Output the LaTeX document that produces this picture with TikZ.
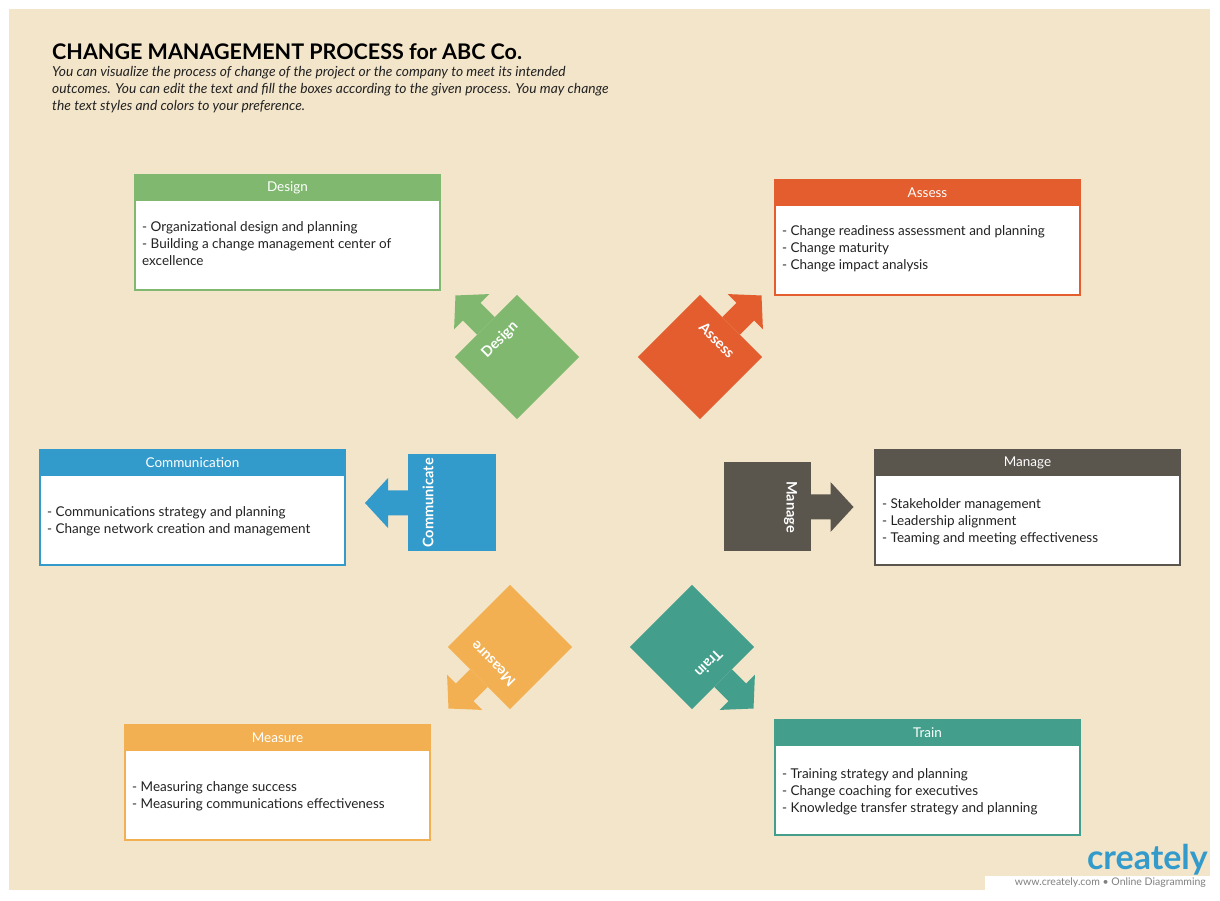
\documentclass[tikz,border=0pt]{standalone}
\usepackage{fontspec}
\setmainfont{Lato}
\definecolor{bg}{HTML}{F3E5CA}
\definecolor{cgreen}{HTML}{80B870}
\definecolor{corange}{HTML}{E35D2E}
\definecolor{cblue}{HTML}{339BCB}
\definecolor{cdark}{HTML}{5A554D}
\definecolor{cyellow}{HTML}{F2B052}
\definecolor{cteal}{HTML}{439F8B}
\definecolor{txt}{HTML}{222222}
\newcommand{\arrshape}[9]{% name,x,y,rot,w,h,color,text,textrot
  \begin{scope}[shift={(#2,#3)},rotate=#4]
    \fill[#7] (-#5/2,-#6/2) rectangle (#5/2,#6/2);
    \fill[#7] (-#5/2,-12.5) -- (-#5/2-20,-12.5) -- (-#5/2-20,-25) -- (-#5/2-43,0)
      -- (-#5/2-20,25) -- (-#5/2-20,12.5) -- (-#5/2,12.5) -- cycle;
    \node[shapelbl,rotate=#9] (#1) at (-#5/2+20,0) {#8};
  \end{scope}}
\newcommand{\procbox}[8]{% name,x1,ytop,x2,ybot,color,title,body-offset ; body in #9
  \draw[#6,line width=1.5pt,fill=white] (#2,#3) rectangle (#4,#5);
  \fill[#6] (#2,#3) rectangle (#4,#3-26);
  \node[hdr] (#1h) at ({(#2+#4)/2},#3-13) {#7};
  \procbody{#1}{#2}{#3-#8}}
\newcommand{\procbody}[4]{\node[bodytxt,anchor=north west] (#1b) at (#2+7,#3) {#4};}
\tikzset{
  shapelbl/.style={text=white,font=\fontsize{14.5}{15}\selectfont\bfseries,inner sep=0pt},
  hdr/.style={text=white,font=\fontsize{13.5}{15}\selectfont,inner sep=0pt},
  bodytxt/.style={text=txt,font=\fontsize{13.5}{17}\selectfont,align=left,inner sep=0pt}
}
\begin{document}
\begin{tikzpicture}[x=1pt,y=1pt]
\useasboundingbox (0,0) rectangle (1220,900);
\fill[white] (0,0) rectangle (1220,900);
\fill[bg] (9,10) rectangle (1210,891);
% title
\node[anchor=west,inner sep=0pt,font=\fontsize{21.5}{25}\selectfont\bfseries,text=black] (title) at (52,848) {CHANGE MANAGEMENT PROCESS for ABC Co.};
\node[anchor=north west,inner sep=0pt,align=left,font=\fontsize{13.8}{17}\selectfont\itshape,text=txt] (sub) at (52,834)
 {You can visualize the process of change of the project or the company to meet its intended\\outcomes. You can edit the text and fill the boxes according to the given process. You may change\\the text styles and colors to your preference.};
% shapes
\arrshape{sDesign}{517}{543}{-45}{88}{88}{cgreen}{Design}{45}
\arrshape{sAssess}{700}{543}{-135}{88}{88}{corange}{Assess}{-45}
\arrshape{sComm}{452}{397}{0}{88}{97}{cblue}{Communicate}{90}
\arrshape{sManage}{767}{393}{180}{87}{89}{cdark}{Manage}{270}
\arrshape{sMeasure}{510}{253}{45}{88}{88}{cyellow}{Measure}{135}
\arrshape{sTrain}{692}{253}{135}{88}{88}{cteal}{Train}{225}
% boxes
\procbox{bDesign}{135}{725}{440}{610}{cgreen}{Design}{46}{- Organizational design and planning\\- Building a change management center of\\excellence}
\procbox{bAssess}{775}{720}{1080}{605}{corange}{Assess}{45}{- Change readiness assessment and planning\\- Change maturity\\- Change impact analysis}
\procbox{bComm}{40}{450}{345}{335}{cblue}{Communication}{56}{- Communications strategy and planning\\- Change network creation and management}
\procbox{bManage}{875}{450}{1180}{335}{cdark}{Manage}{48}{- Stakeholder management\\- Leadership alignment\\- Teaming and meeting effectiveness}
\procbox{bMeasure}{125}{175}{430}{60}{cyellow}{Measure}{56}{- Measuring change success\\- Measuring communications effectiveness}
\procbox{bTrain}{775}{180}{1080}{65}{cteal}{Train}{48}{- Training strategy and planning\\- Change coaching for executives\\- Knowledge transfer strategy and planning}
% logo
\node[anchor=east,inner sep=0pt,font=\fontsize{34}{36}\selectfont\bfseries,text=cblue] (logo) at (1208,40) {creately};
\fill[white] (985,10) rectangle (1210,24);
\node[anchor=east,inner sep=0pt,font=\fontsize{10.5}{12}\selectfont,text=gray] (logotxt) at (1206,17) {www.creately.com • Online Diagramming};
\end{tikzpicture}
\end{document}
